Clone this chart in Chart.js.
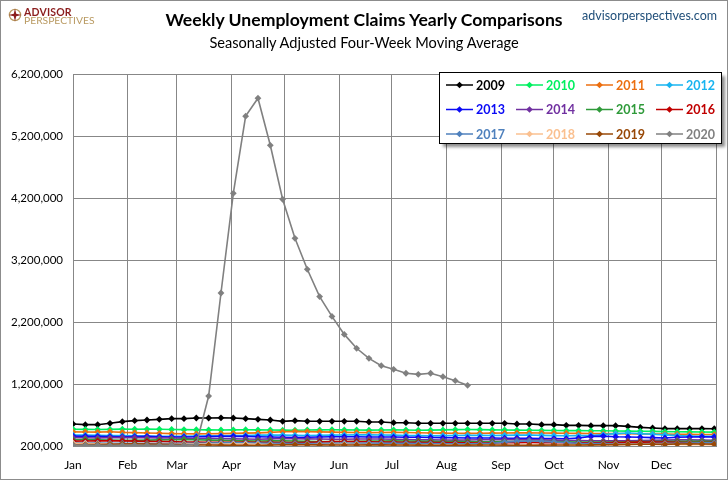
<!DOCTYPE html>
<html>
<head>
<meta charset="utf-8">
<script src="https://cdn.jsdelivr.net/npm/chart.js@4.4.1/dist/chart.umd.min.js"></script>
<style>
  body { margin: 0; background: #fff; }
  #wrap { position: relative; width: 728px; height: 480px; overflow: hidden; font-family: Lato, sans-serif; }
  #box { position: absolute; left: 0; top: 0; width: 728px; height: 480px; }
  #frame { position: absolute; left: 0; top: 0; width: 728px; height: 480px; box-sizing: border-box; border: 1px solid #8c8c8c; pointer-events: none; }
  .txt { position: absolute; white-space: nowrap; }
  #title { left: 0; width: 728px; top: 9px; text-align: center; font-weight: bold; font-size: 17.6px; color: #000; }
  #subtitle { left: 0; width: 728px; top: 34px; text-align: center; font-size: 14.6px; color: #000; }
  #url { right: 11px; top: 8px; font-size: 12.5px; color: #1f4e79; }
  #logo { left: 8px; top: 6px; }
  #logo svg { position: absolute; left: 0; top: 2px; }
  #logo .a { position: absolute; left: 16px; top: 1px; font-weight: bold; font-size: 10.5px; color: #8b1d1d; line-height: 10px; letter-spacing: 0.2px; }
  #logo .p { position: absolute; left: 16px; top: 9px; font-size: 10.3px; color: #b99a62; line-height: 10px; }
</style>
</head>
<body>
<div id="wrap">
  <div id="box"><canvas id="claimsChart"></canvas></div>
  <div class="txt" id="title">Weekly Unemployment Claims Yearly Comparisons</div>
  <div class="txt" id="subtitle">Seasonally Adjusted Four-Week Moving Average</div>
  <div class="txt" id="url">advisorperspectives.com</div>
  <div class="txt" id="logo">
    <svg width="14" height="14" viewBox="0 0 14 14">
      <circle cx="7" cy="7" r="5.6" fill="none" stroke="#b99a62" stroke-width="1.3"/>
      <path d="M7 0.5 L8.2 5.8 L13.5 7 L8.2 8.2 L7 13.5 L5.8 8.2 L0.5 7 L5.8 5.8 Z" fill="#8b1d1d"/>
    </svg>
    <span class="a">ADVISOR</span>
    <span class="p">PERSPECTIVES</span>
  </div>
  <div id="frame"></div>
</div>
<script>
// x axis: day of year, month starts
const monthStarts = [0, 31, 59, 90, 120, 151, 181, 212, 243, 273, 304, 334, 365]
const monthNames = ['Jan', 'Feb', 'Mar', 'Apr', 'May', 'Jun', 'Jul', 'Aug', 'Sep', 'Oct', 'Nov', 'Dec']

// weekly four-week moving average, thousands of claims
const y2009 = [555, 544, 544, 566, 593, 609, 619, 630, 641, 641, 652, 652, 655,
  652, 641, 630, 619, 598, 609, 598, 598, 598, 598, 598, 587, 587, 576,
  576, 566, 566, 566, 566, 566, 566, 566, 566, 555, 555, 544,
  544, 533, 533, 528, 528, 528, 517, 501, 490, 480, 480, 480, 480, 479]
const y2010 = [470, 468, 466, 468, 472, 470, 472, 470, 466, 464,
  462, 460, 458, 460, 462, 460, 458, 456, 455, 458,
  460, 462, 460, 458, 456, 458, 460, 458, 455, 456,
  460, 464, 466, 464, 460, 458, 456, 455, 452, 450,
  448, 448, 446, 445, 442, 440, 438, 436, 432, 430,
  428, 426, 424]
const y2011 = [428, 426, 424, 430, 420, 415, 410, 405, 400, 398,
  396, 398, 400, 404, 408, 412, 420, 430, 436, 432,
  428, 424, 420, 418, 416, 418, 420, 418, 414, 410,
  408, 406, 404, 406, 408, 410, 412, 412, 410, 408,
  406, 404, 402, 400, 400, 398, 396, 394, 392, 390,
  388, 386, 385]
const y2012 = [378, 375, 372, 370, 368, 365, 360, 356, 355, 358,
  362, 365, 366, 368, 370, 375, 378, 376, 372, 370,
  372, 375, 378, 380, 380, 378, 375, 370, 368, 366,
  368, 370, 372, 372, 370, 372, 375, 377, 372, 368,
  365, 368, 370, 385, 400, 410, 400, 390, 380, 370,
  362, 358, 355]
const y2013 = [360, 358, 355, 352, 350, 352, 355, 350, 345, 345,
  348, 352, 355, 358, 355, 350, 345, 340, 338, 340,
  345, 348, 350, 348, 346, 345, 344, 342, 340, 338,
  335, 332, 330, 330, 328, 326, 325, 325, 322, 320,
  318, 330, 355, 360, 350, 345, 340, 335, 330, 340,
  345, 350, 345]
const y2014 = [335, 332, 330, 335, 338, 335, 332, 330, 328, 325,
  322, 320, 318, 315, 312, 310, 315, 320, 318, 315,
  312, 310, 310, 312, 314, 312, 310, 305, 300, 298,
  296, 295, 297, 300, 302, 305, 303, 300, 298, 295,
  292, 288, 285, 283, 282, 285, 288, 292, 295, 298,
  298, 295, 292]
const y2015 = [300, 305, 300, 295, 290, 292, 295, 298, 302, 305,
  300, 295, 290, 285, 282, 280, 282, 285, 280, 275,
  272, 270, 272, 275, 278, 280, 282, 280, 278, 275,
  272, 270, 270, 268, 268, 270, 272, 275, 272, 270,
  268, 265, 262, 262, 265, 268, 270, 272, 274, 275,
  276, 275, 274]
const y2016 = [278, 280, 282, 285, 282, 278, 275, 272, 270, 265,
  262, 260, 258, 260, 262, 260, 258, 256, 255, 258,
  265, 270, 272, 270, 268, 265, 262, 260, 258, 256,
  254, 252, 250, 248, 250, 252, 254, 256, 255, 254,
  252, 250, 250, 252, 255, 258, 262, 265, 262, 258,
  255, 256, 258]
const y2017 = [250, 248, 246, 245, 244, 242, 241, 240, 240, 242,
  245, 248, 250, 252, 250, 248, 245, 242, 240, 238,
  240, 242, 244, 245, 246, 245, 244, 242, 240, 238,
  236, 235, 236, 238, 245, 262, 275, 280, 275, 265,
  255, 245, 240, 238, 236, 235, 237, 240, 242, 245,
  248, 250, 252]
const y2018 = [245, 240, 235, 230, 225, 222, 220, 222, 225, 228,
  230, 228, 226, 228, 230, 225, 222, 220, 218, 220,
  222, 224, 226, 224, 222, 218, 215, 212, 210, 212,
  214, 212, 210, 208, 206, 206, 208, 210, 212, 212,
  210, 212, 215, 218, 222, 226, 228, 228, 226, 225,
  222, 220, 218]
const y2019 = [220, 222, 224, 228, 232, 236, 230, 226, 222, 220,
  218, 216, 214, 212, 210, 208, 215, 220, 222, 220,
  218, 216, 215, 216, 218, 218, 216, 215, 214, 213,
  212, 212, 214, 215, 216, 214, 212, 212, 214, 215,
  216, 216, 218, 220, 222, 225, 228, 228, 226, 232,
  234, 232, 230]
const y2020 = [216, 214, 212, 210, 212, 215, 212, 210, 212, 214,
  225, 1006, 2668, 4276, 5520, 5810, 5050, 4180, 3550, 3050,
  2610, 2290, 2000, 1776, 1614, 1495, 1437, 1373, 1356, 1373,
  1318, 1253, 1179]

const years = ['2009', '2010', '2011', '2012', '2013', '2014', '2015', '2016', '2017', '2018', '2019', '2020']
const seriesValues = [y2009, y2010, y2011, y2012, y2013, y2014, y2015, y2016, y2017, y2018, y2019, y2020]

const seriesColors = ['#000000', '#00f060', '#ec6f10', '#18b4f0', '#0b0bf5', '#7030a0',
  '#2f9a3a', '#c00000', '#4f81bd', '#fac090', '#984807', '#808080']
const gridColor = '#878787'

function toPoints(values) {
  return values.map((v, i) => ({ x: i * 7, y: v * 1000 }))
}

function diamond(ctx, x, y, r) {
  ctx.beginPath()
  ctx.moveTo(x, y - r)
  ctx.lineTo(x + r, y)
  ctx.lineTo(x, y + r)
  ctx.lineTo(x - r, y)
  ctx.closePath()
  ctx.fill()
}

const legendBox = {
  id: 'legendBox',
  afterDraw(chart) {
    const ctx = chart.ctx
    ctx.save()
    ctx.shadowColor = 'rgba(0, 0, 0, 0.45)'
    ctx.shadowOffsetX = 4
    ctx.shadowOffsetY = 4
    ctx.shadowBlur = 3
    ctx.fillStyle = '#fff'
    ctx.fillRect(439, 72, 282, 71)
    ctx.shadowColor = 'transparent'
    ctx.strokeStyle = '#000'
    ctx.lineWidth = 1
    ctx.strokeRect(439.5, 72.5, 282, 71)

    ctx.font = 'bold 12.5px Lato'
    ctx.textBaseline = 'middle'
    chart.data.datasets.forEach((ds, i) => {
      let col = i % 4
      let row = Math.floor(i / 4)
      let x = 446 + col * 70
      let y = 85 + row * 24.5
      ctx.strokeStyle = ds.borderColor
      ctx.fillStyle = ds.borderColor
      ctx.lineWidth = 1.5
      ctx.beginPath()
      ctx.moveTo(x, y)
      ctx.lineTo(x + 27, y)
      ctx.stroke()
      diamond(ctx, x + 13.5, y, 3.3)
      ctx.fillText(ds.label, x + 30, y + 0.5)
    })
    ctx.restore()
  }
}

new Chart(document.getElementById('claimsChart'), {
  type: 'line',
  data: {
    datasets: years.map((yr, i) => ({
      label: yr,
      data: toPoints(seriesValues[i]),
      borderColor: seriesColors[i],
      backgroundColor: seriesColors[i],
      borderWidth: 1.6,
      pointStyle: 'rectRot',
      pointRadius: 3.4,
      pointBorderWidth: 0,
      order: years.length - i
    }))
  },
  options: {
    animation: false,
    responsive: true,
    maintainAspectRatio: false,
    layout: { padding: { top: 74, right: 7, left: 0, bottom: 0 } },
    plugins: {
      legend: { display: false },
      tooltip: { enabled: false }
    },
    elements: { line: { tension: 0 } },
    scales: {
      x: {
        type: 'linear',
        min: 0,
        max: 365,
        afterBuildTicks: scale => { scale.ticks = monthStarts.map(v => ({ value: v })) },
        afterFit: scale => { scale.height = 34 },
        ticks: {
          autoSkip: false,
          maxRotation: 0,
          padding: 12,
          color: '#000',
          font: { family: 'Lato', size: 12 },
          callback: (v, i) => monthNames[i] || ''
        },
        grid: { color: gridColor, drawTicks: false },
        border: { color: gridColor }
      },
      y: {
        min: 200000,
        max: 6200000,
        afterFit: scale => { scale.width = 73 },
        ticks: {
          stepSize: 1000000,
          padding: 10,
          color: '#000',
          font: { family: 'Lato', size: 11.5 },
          callback: v => v.toLocaleString('en-US')
        },
        grid: { color: gridColor, drawTicks: false },
        border: { color: gridColor }
      }
    }
  },
  plugins: [legendBox]
})
</script>
</body>
</html>
